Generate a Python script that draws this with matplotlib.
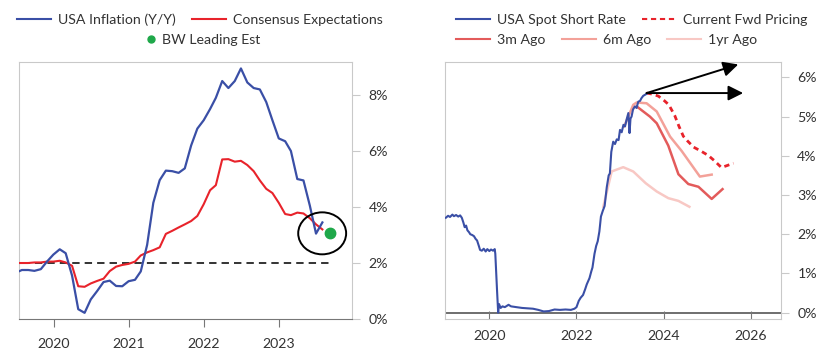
import matplotlib
matplotlib.use('Agg')
import matplotlib.pyplot as plt
import matplotlib.dates as mdates
from matplotlib.patches import Ellipse
from matplotlib.lines import Line2D
from matplotlib.ticker import FuncFormatter
import pandas as pd

plt.rcParams['font.family'] = ['Lato', 'DejaVu Sans']

# ---------------- data: left chart ----------------
months = pd.date_range('2019-06-30', '2023-07-31', freq='ME')
inflation = [1.65, 1.75, 1.75, 1.72, 1.78, 2.05, 2.30,
             2.49, 2.35, 1.55, 0.35, 0.22, 0.70, 1.00, 1.32, 1.37, 1.18, 1.17, 1.35,
             1.40, 1.70, 2.65, 4.15, 4.96, 5.30, 5.28, 5.22, 5.38, 6.20, 6.80, 7.10,
             7.50, 7.90, 8.50, 8.25, 8.50, 8.95, 8.45, 8.25, 8.20, 7.75, 7.10, 6.45,
             6.35, 6.00, 5.00, 4.95, 4.05, 3.05, 3.45]
consensus = [2.00, 2.00, 2.00, 2.02, 2.02, 2.05, 2.05,
             2.08, 2.02, 1.90, 1.17, 1.15, 1.27, 1.36, 1.44, 1.71, 1.87, 1.93, 1.97,
             2.05, 2.27, 2.38, 2.46, 2.56, 3.04, 3.15, 3.27, 3.38, 3.50, 3.68, 4.10,
             4.60, 4.78, 5.70, 5.71, 5.62, 5.65, 5.50, 5.28, 4.95, 4.65, 4.50, 4.15,
             3.75, 3.71, 3.80, 3.77, 3.60, 3.38, 3.20]
bw_date = '2023-09-05'
bw_value = 3.06
target_line = 2.0
target_span = ['2019-06-01', '2023-09-05']
left_years = [2020, 2021, 2022, 2023]
left_yticks = [0, 2, 4, 6, 8]

# ---------------- data: right chart ----------------
spot_dates = ['2019-01-01', '2019-01-20', '2019-02-05', '2019-02-25', '2019-03-10', '2019-03-28',
              '2019-04-15', '2019-05-01', '2019-05-15', '2019-05-28', '2019-06-08', '2019-06-20',
              '2019-07-01', '2019-07-15', '2019-07-25', '2019-08-10', '2019-08-25', '2019-09-08',
              '2019-09-20', '2019-10-05', '2019-10-15', '2019-10-30', '2019-11-15', '2019-12-01',
              '2019-12-15', '2020-01-01', '2020-01-15', '2020-02-01', '2020-02-15', '2020-02-20',
              '2020-03-05', '2020-03-15', '2020-03-22', '2020-04-05', '2020-04-20', '2020-05-10',
              '2020-06-10', '2020-07-01', '2020-08-15', '2020-10-01', '2020-11-15', '2021-01-01',
              '2021-02-15', '2021-04-01', '2021-05-15', '2021-07-01', '2021-08-15', '2021-10-01',
              '2021-11-15', '2021-12-15', '2022-01-01', '2022-01-20', '2022-02-05', '2022-02-25',
              '2022-03-15', '2022-03-28', '2022-04-20', '2022-05-05', '2022-05-15', '2022-06-01',
              '2022-06-15', '2022-06-28', '2022-07-12', '2022-07-25', '2022-08-10', '2022-08-25',
              '2022-09-12', '2022-09-28', '2022-10-08', '2022-10-20', '2022-11-05', '2022-11-20',
              '2022-12-05', '2022-12-20', '2023-01-01', '2023-01-15', '2023-01-30', '2023-02-12',
              '2023-02-25', '2023-03-12', '2023-03-22', '2023-03-30', '2023-04-08', '2023-04-20',
              '2023-05-06', '2023-05-20', '2023-06-03', '2023-06-18', '2023-06-30', '2023-07-15',
              '2023-08-12']
spot_rate = [2.42, 2.47, 2.44, 2.50, 2.46, 2.49,
             2.45, 2.48, 2.42, 2.30, 2.18, 2.22,
             2.10, 2.05, 2.00, 1.98, 1.95, 1.88,
             1.84, 1.70, 1.60, 1.58, 1.63, 1.56,
             1.62, 1.57, 1.61, 1.58, 1.62, 1.50,
             0.60, 0.00, 0.22, 0.12, 0.16, 0.14,
             0.20, 0.16, 0.14, 0.12, 0.11, 0.10,
             0.07, 0.03, 0.04, 0.08, 0.07, 0.08,
             0.07, 0.10, 0.14, 0.30, 0.38, 0.45,
             0.60, 0.72, 0.88, 1.05, 1.15, 1.50,
             1.70, 1.82, 2.07, 2.45, 2.60, 2.72,
             3.20, 3.50, 3.55, 4.10, 4.36, 4.30,
             4.42, 4.40, 4.66, 4.60, 4.79, 4.75,
             4.92, 5.09, 4.58, 4.95, 5.00, 5.18,
             5.26, 5.22, 5.38, 5.40, 5.47, 5.53,
             5.58]

fwd_dates = ['2023-08-12', '2023-10-05', '2023-11-20', '2024-01-10', '2024-02-15', '2024-04-05',
             '2024-05-10', '2024-06-15', '2024-07-20', '2024-09-10', '2024-11-10', '2025-01-10',
             '2025-03-01', '2025-05-01', '2025-08-10']
fwd_rate = [5.60, 5.57, 5.52, 5.40, 5.30, 5.02, 4.75, 4.50, 4.38, 4.22, 4.12, 4.01, 3.88, 3.70, 3.81]

m3_dates = ['2023-05-21', '2023-09-09', '2023-11-05', '2024-02-10', '2024-05-05', '2024-07-27',
            '2024-10-20', '2025-02-08', '2025-05-10']
m3_rate = [5.26, 5.00, 4.83, 4.26, 3.53, 3.28, 3.21, 2.90, 3.15]

m6_dates = ['2023-02-05', '2023-04-22', '2023-05-21', '2023-08-12', '2023-11-05', '2024-02-25',
            '2024-06-02', '2024-11-01', '2025-02-08']
m6_rate = [4.75, 5.30, 5.36, 5.34, 5.13, 4.49, 4.12, 3.47, 3.52]

y1_dates = ['2022-08-14', '2022-10-23', '2023-01-28', '2023-04-22', '2023-08-05', '2023-11-05',
            '2024-02-10', '2024-05-05', '2024-08-05']
y1_rate = [2.70, 3.60, 3.71, 3.60, 3.30, 3.09, 2.92, 2.85, 2.70]

arrow_start = ('2023-08-12', 5.60)
arrow_flat_end = ('2025-10-30', 5.60)
arrow_up_end = ('2025-09-19', 6.33)
right_years = [2020, 2022, 2024, 2026]
right_yticks = [0, 1, 2, 3, 4, 5, 6]

# ---------------- styling ----------------
W, H = 840, 359
BLUE = '#3a4fa6'
RED = '#e8232b'
RED3 = '#e35b5b'
RED6 = '#f3a199'
RED1 = '#f8c8c4'
GREEN = '#1fa84a'
FRAME = '#c9c9c9'
TXT = '#333333'
FS = 10.2

fig = plt.figure(figsize=(W / 100, H / 100), dpi=100)
ax1 = fig.add_axes([19 / W, 1 - 319 / H, (352 - 19) / W, (319 - 62) / H])
ax2 = fig.add_axes([445 / W, 1 - 319.3 / H, (780.7 - 445) / W, (319.3 - 61.7) / H])

pct = FuncFormatter(lambda v, p: f'{v:.0f}%')

# ----- left chart -----
ax1.plot(months, consensus, color=RED, lw=1.5, zorder=3)
ax1.plot(months, inflation, color=BLUE, lw=1.6, zorder=4)
ax1.plot(pd.to_datetime(target_span), [target_line, target_line], color='#333333', lw=1.4,
         dashes=(3.8, 2.6), zorder=2)
ax1.plot([pd.Timestamp(bw_date)], [bw_value], 'o', color=GREEN, ms=7.5, zorder=5)
cx = mdates.date2num(pd.Timestamp('2023-07-30'))
ax1.add_patch(Ellipse((cx, 3.06), width=233, height=1.5, fill=False, ec='black', lw=1.4, zorder=6))

ax1.set_xlim(pd.Timestamp('2019-07-17'), pd.Timestamp('2023-12-22'))
ax1.set_ylim(0, 9.18)
ax1.set_xticks([pd.Timestamp(f'{y}-01-01') for y in left_years])
ax1.xaxis.set_major_formatter(mdates.DateFormatter('%Y'))
ax1.set_yticks(left_yticks)
ax1.yaxis.set_major_formatter(pct)
ax1.yaxis.tick_right()
for s in ['top', 'left', 'right']:
    ax1.spines[s].set_color(FRAME)
ax1.spines['bottom'].set_color('#777777')
ax1.tick_params(axis='y', direction='out', length=6, color=FRAME, labelsize=FS, labelcolor=TXT, pad=6)
ax1.tick_params(axis='x', direction='out', length=6, color='#777777', labelsize=FS, labelcolor=TXT, pad=8)

# ----- right chart -----
ax2.axhline(0, color='#555555', lw=1.2, zorder=1)
ax2.plot(pd.to_datetime(y1_dates), y1_rate, color=RED1, lw=1.8, zorder=2)
ax2.plot(pd.to_datetime(m6_dates), m6_rate, color=RED6, lw=1.8, zorder=2)
ax2.plot(pd.to_datetime(m3_dates), m3_rate, color=RED3, lw=1.8, zorder=2)
ax2.plot(pd.to_datetime(spot_dates), spot_rate, color=BLUE, lw=1.5, zorder=3)
ax2.plot(pd.to_datetime(fwd_dates), fwd_rate, color=RED, lw=2.0, dashes=(1.9, 1.5), zorder=2)

x0 = mdates.date2num(pd.Timestamp(arrow_start[0]))
for end in (arrow_flat_end, arrow_up_end):
    ax2.annotate('', xy=(mdates.date2num(pd.Timestamp(end[0])), end[1]),
                 xytext=(x0, arrow_start[1]),
                 arrowprops=dict(arrowstyle='-|>,head_length=0.9,head_width=0.45',
                                 color='black', lw=1.4, shrinkA=0, shrinkB=0), zorder=6)

ax2.set_xlim(pd.Timestamp('2018-12-25'), pd.Timestamp('2026-09-10'))
ax2.set_ylim(-0.17, 6.40)
ax2.set_xticks([pd.Timestamp(f'{y}-01-01') for y in right_years])
ax2.xaxis.set_major_formatter(mdates.DateFormatter('%Y'))
ax2.set_yticks(right_yticks)
ax2.yaxis.set_major_formatter(pct)
ax2.yaxis.tick_right()
for s in ax2.spines.values():
    s.set_color(FRAME)
ax2.tick_params(axis='y', direction='out', length=6, color=FRAME, labelsize=FS, labelcolor=TXT, pad=6)
ax2.tick_params(axis='x', direction='in', length=6, color='#777777', labelsize=FS, labelcolor=TXT, pad=8)

# ----- legends -----
def row_legend(handles, labels, x_px, y_px, hl=2.4, htp=0.5):
    fig.legend(handles, labels, loc='center left', bbox_to_anchor=(x_px / W, 1 - y_px / H),
               ncol=len(handles), frameon=False, borderpad=0, borderaxespad=0,
               handlelength=hl, handletextpad=htp, columnspacing=1.15, fontsize=FS,
               labelcolor=TXT)

row_legend([Line2D([], [], color=BLUE, lw=1.5), Line2D([], [], color=RED, lw=1.5)],
           ['USA Inflation (Y/Y)', 'Consensus Expectations'], 17, 20)
row_legend([Line2D([], [], color=GREEN, marker='o', ls='none', ms=5)],
           ['BW Leading Est'], 145, 40, hl=0.8, htp=0.4)
row_legend([Line2D([], [], color=BLUE, lw=1.5), Line2D([], [], color=RED, lw=1.5, dashes=(2.5, 1.8))],
           ['USA Spot Short Rate', 'Current Fwd Pricing'], 456, 20)
row_legend([Line2D([], [], color=RED3, lw=1.5), Line2D([], [], color=RED6, lw=1.5),
            Line2D([], [], color=RED1, lw=1.5)],
           ['3m Ago', '6m Ago', '1yr Ago'], 456, 40)

fig.savefig('out.png', dpi=100)
